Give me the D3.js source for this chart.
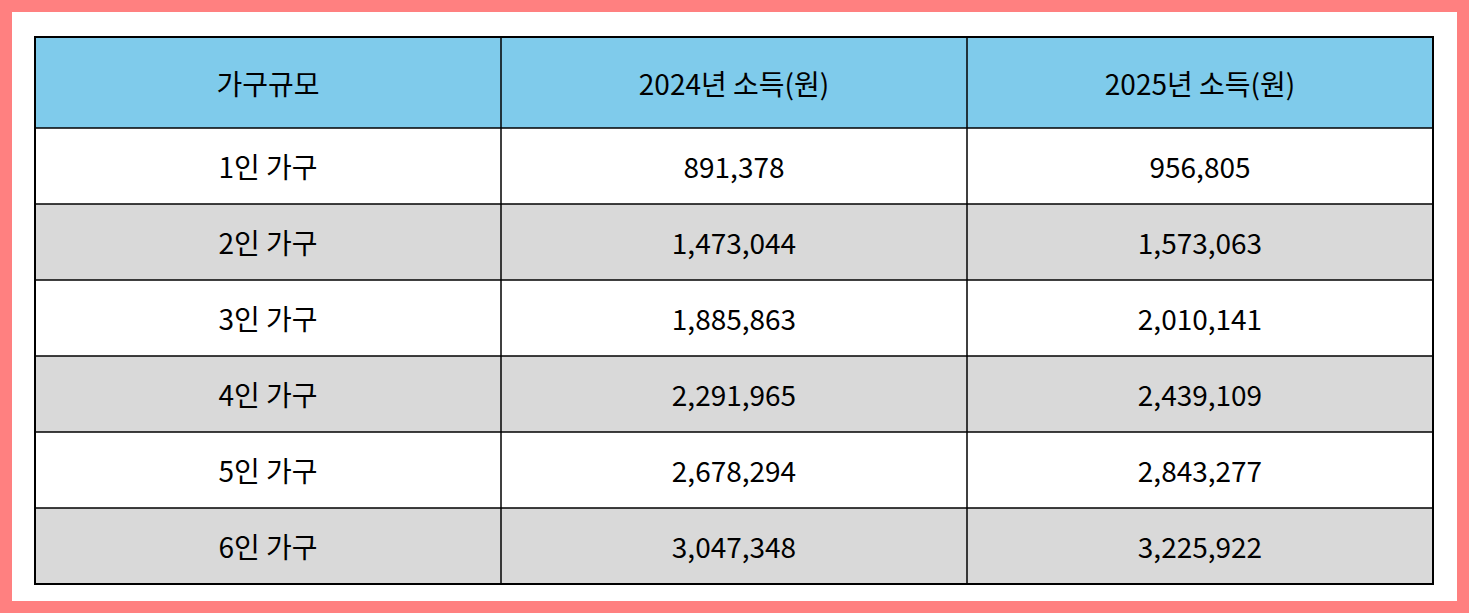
<!DOCTYPE html>
<html><head><meta charset="utf-8">
<script src="https://cdn.jsdelivr.net/npm/d3@7"></script>
<style>body{margin:0;background:#fff}svg{display:block}</style>
</head><body>
<svg id="c" width="1469" height="613"></svg>
<script>
const headers = ["가구규모", "2024년 소득(원)", "2025년 소득(원)"];
const categories = ["1인 가구", "2인 가구", "3인 가구", "4인 가구", "5인 가구", "6인 가구"];
const income2024 = [891378, 1473044, 1885863, 2291965, 2678294, 3047348];
const income2025 = [956805, 1573063, 2010141, 2439109, 2843277, 3225922];

(function(){
const svg = d3.select("#c");
const fmt = d3.format(",");
svg.append("rect").attr("x",6).attr("y",6).attr("width",1457).attr("height",601)
  .attr("fill","#fff").attr("stroke","#FF8080").attr("stroke-width",12);

const L=35, R=1433, T=37, headH=91, B=584;
const x = d3.scaleBand().domain(d3.range(3)).range([L,R]);
const y = d3.scaleBand().domain(d3.range(categories.length)).range([T+headH,B]);
const font = "'Malgun Gothic','Noto Sans CJK KR',sans-serif";

svg.append("rect").attr("x",L).attr("y",T).attr("width",R-L).attr("height",headH).attr("fill","#7FCBEB");
svg.selectAll("text.h").data(headers).join("text").attr("class","h")
  .attr("x",(d,i)=>x(i)+x.bandwidth()/2).attr("y",T+headH/2)
  .attr("text-anchor","middle").attr("dominant-baseline","central")
  .attr("font-family",font).attr("font-size",28).attr("fill","#000").text(d=>d);

const rows = categories.map((c,i)=>({i, cells:[c, fmt(income2024[i]), fmt(income2025[i])]}));
const g = svg.selectAll("g.r").data(rows).join("g").attr("class","r");
g.append("rect").attr("x",L).attr("y",d=>y(d.i)).attr("width",R-L).attr("height",y.bandwidth())
  .attr("fill",d=>d.i%2? "#D9D9D9":"#fff");
g.selectAll("text").data(d=>d.cells.map((t,j)=>({t,j,i:d.i}))).join("text")
  .attr("x",d=>x(d.j)+x.bandwidth()/2)
  .attr("y",d=>y(d.i)+y.bandwidth()/2)
  .attr("text-anchor","middle").attr("dominant-baseline","central")
  .attr("font-family",font).attr("font-size",28).attr("fill","#000").text(d=>d.t);

const hl = [T, T+headH, ...d3.range(categories.length).map(i=>y(i)+y.bandwidth())];
svg.selectAll("line.h").data(hl).join("line").attr("class","h").attr("x1",L).attr("x2",R)
  .attr("y1",d=>d).attr("y2",d=>d).attr("stroke","#000").attr("stroke-width",1.5);
const vl = [L, x(1), x(2), R];
svg.selectAll("line.v").data(vl).join("line").attr("class","v").attr("y1",T).attr("y2",B)
  .attr("x1",d=>d).attr("x2",d=>d).attr("stroke","#000").attr("stroke-width",1.5);
svg.append("rect").attr("x",L).attr("y",T).attr("width",R-L).attr("height",B-T)
  .attr("fill","none").attr("stroke","#000").attr("stroke-width",2);
})();
</script>
</body></html>
